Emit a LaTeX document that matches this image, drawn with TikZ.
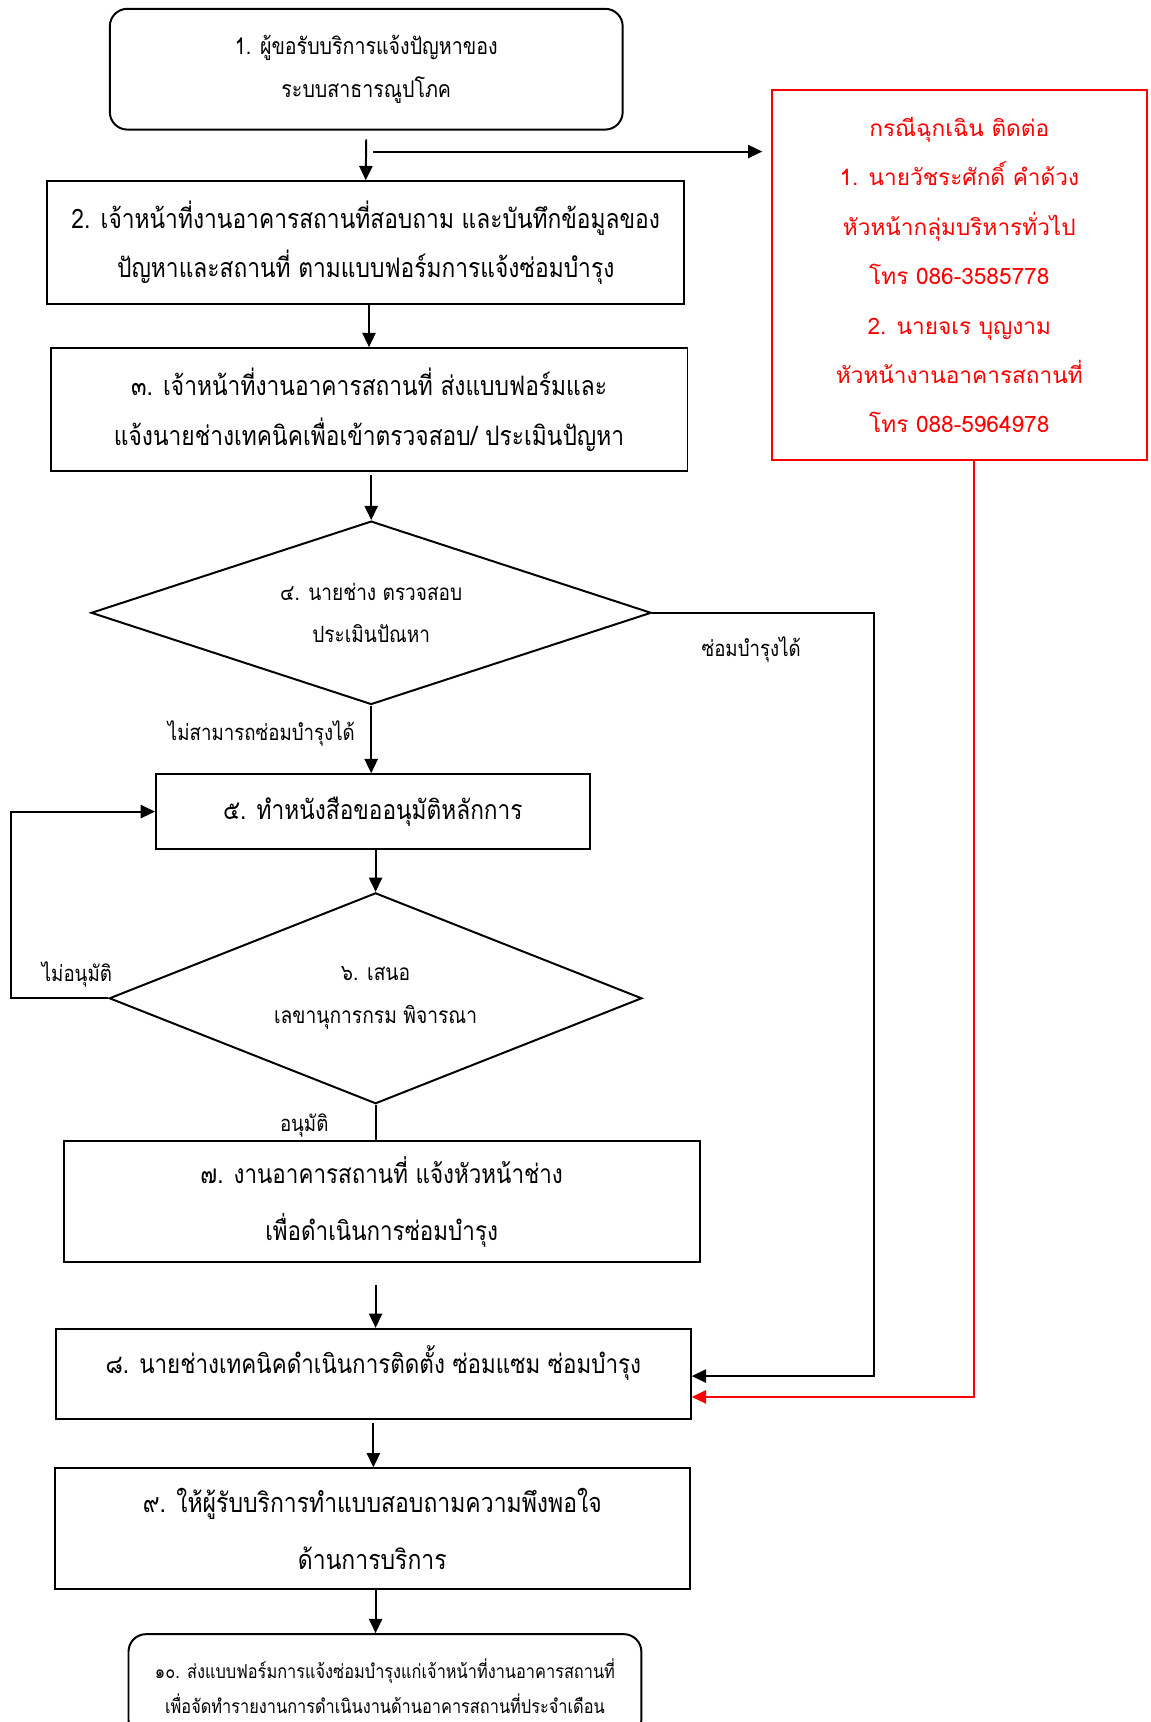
\documentclass[tikz,border=0pt]{standalone}
\usepackage{fontspec}
\newfontfamily\thai[Script=Thai,FakeStretch=0.85]{Loma}
\newfontfamily\thaired[Script=Thai]{Loma}
\usetikzlibrary{shapes.geometric,arrows.meta,calc}
\begin{document}
\begin{tikzpicture}[x=0.5pt,y=-0.5pt,
  base/.style={draw, line width=0.9pt, inner sep=0pt, align=center},
  procbox/.style={base, rectangle},
  termbox/.style={base, rectangle, rounded corners=8pt},
  decision/.style={base, diamond},
  redbox/.style={draw=red, line width=0.9pt, inner sep=0pt, align=center, text=red},
  arr/.style={-{Triangle[length=6.5pt,width=6pt]}, line width=0.9pt},
  redarr/.style={-{Triangle[length=6.5pt,width=6pt,fill=red]}, line width=0.9pt, draw=red},
  lbl/.style={inner sep=0pt, font=\fontsize{10}{12}\thai},
  bigtxt/.style={font=\fontsize{12.2}{22.5}\thai}
]
\useasboundingbox (0,0) rectangle (1048,1568);

% boxes
\node[termbox, font=\fontsize{10.5}{19.5}\thai, minimum width=233.5pt, minimum height=55pt] (b1) at (333.5,63)
  {1. ผู้ขอรับบริการแจ้งปัญหาของ\\ระบบสาธารณูปโภค};
\node[procbox, bigtxt, minimum width=290pt, minimum height=56pt] (b2) at (333,221)
  {2. เจ้าหน้าที่งานอาคารสถานที่สอบถาม และบันทึกข้อมูลของ\\ปัญหาและสถานที่ ตามแบบฟอร์มการแจ้งซ่อมบำรุง};
\node[procbox, bigtxt, minimum width=290pt, minimum height=56pt] (b3) at (336,373)
  {๓. เจ้าหน้าที่งานอาคารสถานที่ ส่งแบบฟอร์มและ\\แจ้งนายช่างเทคนิคเพื่อเข้าตรวจสอบ/ ประเมินปัญหา};
\node[decision, shape aspect=3.05, font=\fontsize{10.2}{19}\thai, minimum width=255pt, minimum height=83.5pt] (d4) at (338,558)
  {๔. นายช่าง ตรวจสอบ\\ประเมินปัณหา};
\node[procbox, font=\fontsize{12.15}{22}\thai, minimum width=197.5pt, minimum height=34pt] (b5) at (339.5,739)
  {๕. ทำหนังสือขออนุมัติหลักการ};
\node[decision, shape aspect=2.53, font=\fontsize{10.3}{19.5}\thai, minimum width=242.5pt, minimum height=96pt] (d6) at (342,909)
  {๖. เสนอ\\เลขานุการกรม พิจารณา};
\node[procbox, font=\fontsize{12}{26}\thai, minimum width=289.5pt, minimum height=55pt] (b7) at (347.5,1094)
  {๗. งานอาคารสถานที่ แจ้งหัวหน้าช่าง\\เพื่อดำเนินการซ่อมบำรุง};
\node[procbox, font=\fontsize{12}{22}\thai, minimum width=289pt, minimum height=41pt] (b8) at (340,1251)
  {\raisebox{5pt}[\height][\depth]{๘. นายช่างเทคนิคดำเนินการติดตั้ง ซ่อมแซม ซ่อมบำรุง}};
\node[procbox, font=\fontsize{12.3}{26}\thai, minimum width=289pt, minimum height=55pt] (b9) at (339,1392)
  {๙. ให้ผู้รับบริการทำแบบสอบถามความพึงพอใจ\\ด้านการบริการ};
\node[termbox, font=\fontsize{8.75}{16}\thai, minimum width=233.5pt, minimum height=47pt] (b10) at (350.5,1535)
  {๑๐. ส่งแบบฟอร์มการแจ้งซ่อมบำรุงแก่เจ้าหน้าที่งานอาคารสถานที่\\เพื่อจัดทำรายงานการดำเนินงานด้านอาคารสถานที่ประจำเดือน};
\node[redbox, font=\fontsize{10.3}{22.5}\thaired, minimum width=170.5pt, minimum height=168.5pt] (rb) at (873.5,250.5)
  {กรณีฉุกเฉิน ติดต่อ\\1. นายวัชระศักดิ์ คำด้วง\\หัวหน้ากลุ่มบริหารทั่วไป\\โทร 086-3585778\\2. นายจเร บุญงาม\\หัวหน้างานอาคารสถานที่\\โทร 088-5964978};

% helper coordinates
\coordinate (split) at (340,138);
\coordinate (c78) at (342,1170);

% connectors
\draw[arr] ([yshift=-4pt]b1.south) -- (b2.north);
\draw[arr] (split) -- ([xshift=-4pt]split -| rb.west);
\draw[arr] (b3.north |- b2.south) -- (b3.north);
\draw[arr] ([yshift=-1.5pt]d4.north |- b3.south) -- (d4.north);
\draw[arr] (d4.south) -- (d4.south |- b5.north);
\draw[arr] (d4.east) -- ++(202,0) |- ([yshift=-1pt]b8.east);
\draw[arr] (d6.north |- b5.south) -- (d6.north);
\draw[arr] (d6.west) -- ++(-89,0) |- (b5.west);
\draw[line width=0.9pt] (d6.south) -- (d6.south |- b7.north);
\draw[arr] (c78) -- (c78 |- b8.north);
\draw[arr] ([yshift=-1.5pt]b8.south) -- (b8.south |- b9.north);
\draw[arr] (b9.south -| c78) -- (c78 |- b10.north);
\draw[redarr] ([xshift=6.75pt]rb.south) |- ([yshift=-10.5pt]b8.east);

% labels
\node[lbl] (l1) at (684,591) {ซ่อมบำรุงได้};
\node[lbl] (l2) at (238,668) {ไม่สามารถซ่อมบำรุงได้};
\node[lbl] (l3) at (70,887) {ไม่อนุมัติ};
\node[lbl] (l4) at (277,1025) {อนุมัติ};
\end{tikzpicture}
\end{document}
